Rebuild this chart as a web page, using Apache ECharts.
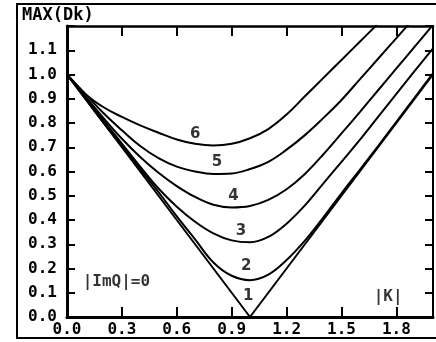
<!DOCTYPE html>
<html><head><meta charset="utf-8">
<script src="https://cdn.jsdelivr.net/npm/echarts@6/dist/echarts.min.js"></script>
<style>html,body{margin:0;padding:0;background:#fff}#c{width:436px;height:342px}</style>
</head><body><div id="c"></div>
<script>
const kValues = [0.0,0.1,0.2,0.3,0.4,0.5,0.6,0.7,0.8,0.9,1.0,1.1,1.2,1.3,1.4,1.5,1.6,1.7,1.8,1.9,2.0];
const curve1 = [1.0,0.9,0.8,0.7,0.6,0.5,0.4,0.3,0.2,0.1,0.0,0.1,0.2,0.3,0.4,0.5,0.6,0.7,0.8,0.9,1.0];
const curve2 = [1.0,0.9,0.8,0.705,0.61,0.515,0.415,0.32,0.225,0.17,0.152,0.175,0.235,0.315,0.41,0.51,0.607,0.705,0.805,0.905,1.005];
const curve3 = [1.0,0.905,0.81,0.715,0.62,0.53,0.455,0.393,0.345,0.316,0.308,0.33,0.385,0.46,0.55,0.64,0.73,0.825,0.92,1.015,1.108];
const curve4 = [1.0,0.91,0.82,0.735,0.66,0.595,0.54,0.495,0.463,0.452,0.458,0.483,0.527,0.59,0.67,0.757,0.845,0.935,1.025,1.115,1.205];
const curve5 = [1.0,0.92,0.84,0.77,0.705,0.655,0.62,0.60,0.59,0.592,0.61,0.64,0.69,0.75,0.82,0.895,0.98,1.065,1.15,1.235];
const curve6 = [1.0,0.92,0.865,0.825,0.79,0.76,0.732,0.714,0.707,0.714,0.737,0.775,0.835,0.91,0.985,1.06,1.135,1.21];
const curves = [curve1, curve2, curve3, curve4, curve5, curve6];

const curveLabelText = ['1','2','3','4','5','6'];
const curveLabelK = [0.99,0.98,0.95,0.91,0.82,0.70];
const curveLabelV = [0.085,0.21,0.355,0.50,0.64,0.755];

const noteText = ['|ImQ|=0','|K|'];
const noteK = [0.27,1.755];
const noteV = [0.145,0.083];

const titleText = 'MAX(Dk)';
const FONT = 'DejaVu Sans Mono';

const chart = echarts.init(document.getElementById('c'), null, {renderer:'canvas'});

const series = curves.map((c, i) => ({
  type: 'line',
  data: c.map((v, j) => [kValues[j], v]),
  showSymbol: false,
  smooth: i === 0 ? false : 0.4,
  clip: true,
  lineStyle: {color: '#000', width: 2},
  silent: true,
  z: 3
}));

series.push({
  type: 'scatter',
  symbolSize: 0,
  silent: true,
  data: curveLabelText.map((t, i) => ({value: [curveLabelK[i], curveLabelV[i]], name: t})),
  label: {show: true, position: 'inside', formatter: p => p.name,
    fontFamily: 'DejaVu Sans', fontWeight: 'bold', fontSize: 15, color: '#000'},
  z: 4
});
series.push({
  type: 'scatter',
  symbolSize: 0,
  silent: true,
  data: noteText.map((t, i) => ({value: [noteK[i], noteV[i]], name: t})),
  label: {show: true, position: 'inside', formatter: p => p.name,
    fontFamily: FONT, fontWeight: 'bold', fontSize: 16, color: '#000'},
  z: 4
});

const fmt1 = v => v.toFixed(1);

chart.setOption({
  animation: false,
  backgroundColor: '#fff',
  grid: {left: 67, right: 1, top: 26, bottom: 25, containLabel: false},
  xAxis: [{
    type: 'value', min: 0, max: 2.0, interval: 0.3, position: 'bottom',
    axisLine: {show: true, onZero: false, lineStyle: {color: '#000', width: 3}},
    axisTick: {show: true, inside: true, length: 10, lineStyle: {color: '#000', width: 2}},
    axisLabel: {show: true, margin: 5, color: '#000', fontFamily: FONT, fontWeight: 'bold', fontSize: 16,
      formatter: v => (Math.abs(v / 0.3 - Math.round(v / 0.3)) < 1e-6 ? fmt1(v) : '')},
    splitLine: {show: false}
  },{
    type: 'value', min: 0, max: 2.0, interval: 0.3, position: 'top',
    axisLine: {show: true, onZero: false, lineStyle: {color: '#000', width: 2.5}},
    axisTick: {show: true, inside: true, length: 10, lineStyle: {color: '#000', width: 2}},
    axisLabel: {show: false}, splitLine: {show: false}
  }],
  yAxis: [{
    type: 'value', min: 0, max: 1.2, interval: 0.1, position: 'left',
    axisLine: {show: true, onZero: false, lineStyle: {color: '#000', width: 3}},
    axisTick: {show: true, inside: true, length: 8, lineStyle: {color: '#000', width: 2}},
    axisLabel: {show: true, margin: 10, color: '#000', fontFamily: FONT, fontWeight: 'bold', fontSize: 16,
      formatter: v => (v > 1.15 ? '' : fmt1(v))},
    splitLine: {show: false}
  },{
    type: 'value', min: 0, max: 1.2, interval: 0.1, position: 'right',
    axisLine: {show: true, onZero: false, lineStyle: {color: '#000', width: 2}},
    axisTick: {show: true, inside: true, length: 8, lineStyle: {color: '#000', width: 2}},
    axisLabel: {show: false}, splitLine: {show: false}
  }],
  graphic: [
    {type: 'rect', shape: {x: 17, y: 4, width: 430, height: 334}, style: {fill: 'none', stroke: '#000', lineWidth: 2}, silent: true},
    {type: 'text', left: 22, top: 7, style: {text: titleText, fill: '#000', font: 'bold 17px "DejaVu Sans Mono"'}, silent: true}
  ],
  series: series
});
</script>
</body></html>
